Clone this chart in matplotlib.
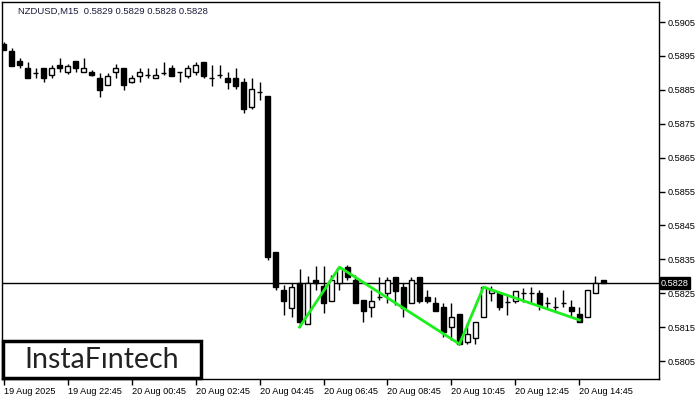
import matplotlib
matplotlib.use("Agg")
import matplotlib.pyplot as plt
from matplotlib.patches import Rectangle

# NZDUSD M15 candles (open, high, low, close)
opens = [0.58985, 0.58964, 0.58935, 0.58914, 0.58900, 0.58914, 0.58894, 0.58923, 0.58903, 0.58935,
         0.58903, 0.58903, 0.58885, 0.58864, 0.58903, 0.58914, 0.58873, 0.58891, 0.58894, 0.58885,
         0.58900, 0.58914, 0.58903, 0.58891, 0.58903, 0.58932, 0.58885, 0.58894, 0.58885, 0.58885,
         0.58873, 0.58799, 0.58844, 0.58832, 0.58372, 0.58259, 0.58206, 0.58280, 0.58159, 0.58289,
         0.58271, 0.58227, 0.58280, 0.58327, 0.58289, 0.58230, 0.58209, 0.58239, 0.58251, 0.58298,
         0.58268, 0.58221, 0.58298, 0.58239, 0.58221, 0.58209, 0.58150, 0.58189, 0.58106, 0.58118,
         0.58180, 0.58251, 0.58251, 0.58224, 0.58227, 0.58251, 0.58251, 0.58251, 0.58221, 0.58209,
         0.58221, 0.58209, 0.58189, 0.58180, 0.58251, 0.58289]
highs = [0.58991, 0.58973, 0.58944, 0.58932, 0.58914, 0.58914, 0.58923, 0.58944, 0.58926, 0.58935,
         0.58944, 0.58909, 0.58900, 0.58900, 0.58926, 0.58914, 0.58894, 0.58914, 0.58914, 0.58914,
         0.58932, 0.58923, 0.58903, 0.58923, 0.58932, 0.58932, 0.58923, 0.58923, 0.58903, 0.58914,
         0.58885, 0.58885, 0.58873, 0.58832, 0.58372, 0.58274, 0.58280, 0.58321, 0.58301, 0.58330,
         0.58330, 0.58304, 0.58327, 0.58333, 0.58304, 0.58230, 0.58259, 0.58298, 0.58298, 0.58298,
         0.58280, 0.58298, 0.58298, 0.58259, 0.58239, 0.58221, 0.58221, 0.58189, 0.58162, 0.58165,
         0.58268, 0.58271, 0.58251, 0.58245, 0.58256, 0.58265, 0.58268, 0.58259, 0.58239, 0.58239,
         0.58259, 0.58230, 0.58209, 0.58259, 0.58301, 0.58289]
lows = [0.58967, 0.58920, 0.58914, 0.58885, 0.58885, 0.58873, 0.58885, 0.58903, 0.58897, 0.58903,
        0.58903, 0.58891, 0.58829, 0.58864, 0.58885, 0.58849, 0.58870, 0.58873, 0.58885, 0.58885,
        0.58894, 0.58891, 0.58873, 0.58885, 0.58894, 0.58885, 0.58861, 0.58885, 0.58852, 0.58852,
        0.58782, 0.58793, 0.58820, 0.58348, 0.58259, 0.58186, 0.58180, 0.58150, 0.58159, 0.58259,
        0.58192, 0.58227, 0.58259, 0.58289, 0.58221, 0.58165, 0.58180, 0.58230, 0.58221, 0.58215,
        0.58180, 0.58221, 0.58221, 0.58221, 0.58197, 0.58121, 0.58112, 0.58097, 0.58100, 0.58100,
        0.58180, 0.58227, 0.58200, 0.58186, 0.58221, 0.58224, 0.58221, 0.58200, 0.58206, 0.58195,
        0.58209, 0.58180, 0.58165, 0.58180, 0.58251, 0.58280]
closes = [0.58967, 0.58920, 0.58923, 0.58885, 0.58900, 0.58885, 0.58914, 0.58914, 0.58920, 0.58914,
          0.58914, 0.58894, 0.58849, 0.58891, 0.58914, 0.58864, 0.58885, 0.58903, 0.58894, 0.58894,
          0.58900, 0.58891, 0.58903, 0.58914, 0.58923, 0.58891, 0.58885, 0.58894, 0.58873, 0.58861,
          0.58793, 0.58852, 0.58844, 0.58357, 0.58268, 0.58227, 0.58268, 0.58165, 0.58280, 0.58280,
          0.58221, 0.58289, 0.58324, 0.58298, 0.58221, 0.58197, 0.58227, 0.58239, 0.58289, 0.58256,
          0.58206, 0.58289, 0.58227, 0.58227, 0.58197, 0.58136, 0.58180, 0.58100, 0.58130, 0.58165,
          0.58268, 0.58259, 0.58209, 0.58224, 0.58256, 0.58251, 0.58251, 0.58215, 0.58221, 0.58209,
          0.58221, 0.58197, 0.58165, 0.58259, 0.58280, 0.58280]

# pattern zigzag (bar index, price)
pattern_idx = [37, 42, 57, 60, 72]
pattern_px = [0.58150, 0.58327, 0.58100, 0.58268, 0.58171]

last_price = 0.5828
price_ticks = [0.5805, 0.5815, 0.5825, 0.5835, 0.5845, 0.5855, 0.5865, 0.5875, 0.5885, 0.5895, 0.5905]
time_tick_idx = [0, 8, 16, 24, 32, 40, 48, 56, 64, 72]
time_labels = ["19 Aug 2025", "19 Aug 22:45", "20 Aug 00:45", "20 Aug 02:45", "20 Aug 04:45",
               "20 Aug 06:45", "20 Aug 08:45", "20 Aug 10:45", "20 Aug 12:45", "20 Aug 14:45"]
title = "NZDUSD,M15  0.5829 0.5829 0.5828 0.5828"

FONT = "Liberation Sans"

fig = plt.figure(figsize=(7, 4), dpi=100)
ax = fig.add_axes([2 / 700, 1 - 379 / 400, 657 / 700, 377 / 400])
ax.set_xlim(-0.19, 81.94)
ax.set_ylim(0.57997, 0.59109)

body_w = 0.6
for i in range(len(opens)):
    o, h, l, c = opens[i], highs[i], lows[i], closes[i]
    ax.vlines(i, l, h, color="black", lw=1, zorder=2)
    bottom = min(o, c)
    height = abs(c - o)
    if height < 1e-6:
        ax.hlines(o, i - body_w / 2, i + body_w / 2, color="black", lw=1, zorder=3)
    else:
        face = "white" if c > o else "black"
        ax.add_patch(Rectangle((i - body_w / 2, bottom), body_w, height,
                               facecolor=face, edgecolor="black", lw=1, zorder=3))

ax.plot(pattern_idx, pattern_px, color="#1cf01c", lw=2, zorder=4)
ax.axhline(last_price, color="black", lw=1, zorder=1)

for s in ax.spines.values():
    s.set_linewidth(1)

ax.yaxis.tick_right()
ax.set_yticks(price_ticks)
ax.set_yticklabels([f"{p:.4f}" for p in price_ticks])
ax.set_xticks(time_tick_idx)
ax.set_xticklabels(time_labels, ha="left")
ax.tick_params(axis="both", length=4, width=1, labelsize=6.6, pad=2)
for t in ax.get_xticklabels() + ax.get_yticklabels():
    t.set_fontfamily(FONT)

# last price marker on the right axis
ax.text(1.003, last_price, f"{last_price:.4f}", transform=ax.get_yaxis_transform(),
        ha="left", va="center", fontsize=6.6, family=FONT, color="white",
        bbox=dict(boxstyle="square,pad=0.15", facecolor="black", edgecolor="black"), zorder=6)

fig.text(18 / 700, 1 - 11 / 400, title, ha="left", va="center",
         fontsize=6.8, family=FONT, color="#1a1a3a")

# logo box
fig.patches.append(Rectangle((3 / 700, 1 - 378 / 400), 198 / 700, 37 / 400,
                             transform=fig.transFigure, facecolor="white",
                             edgecolor="black", lw=2.5, zorder=10))
fig.text(102 / 700, 1 - 360 / 400, "InstaFıntech", ha="center", va="center",
         fontsize=20.5, family="Lato", color="#222222", zorder=11)

fig.savefig("out.png", dpi=100)
